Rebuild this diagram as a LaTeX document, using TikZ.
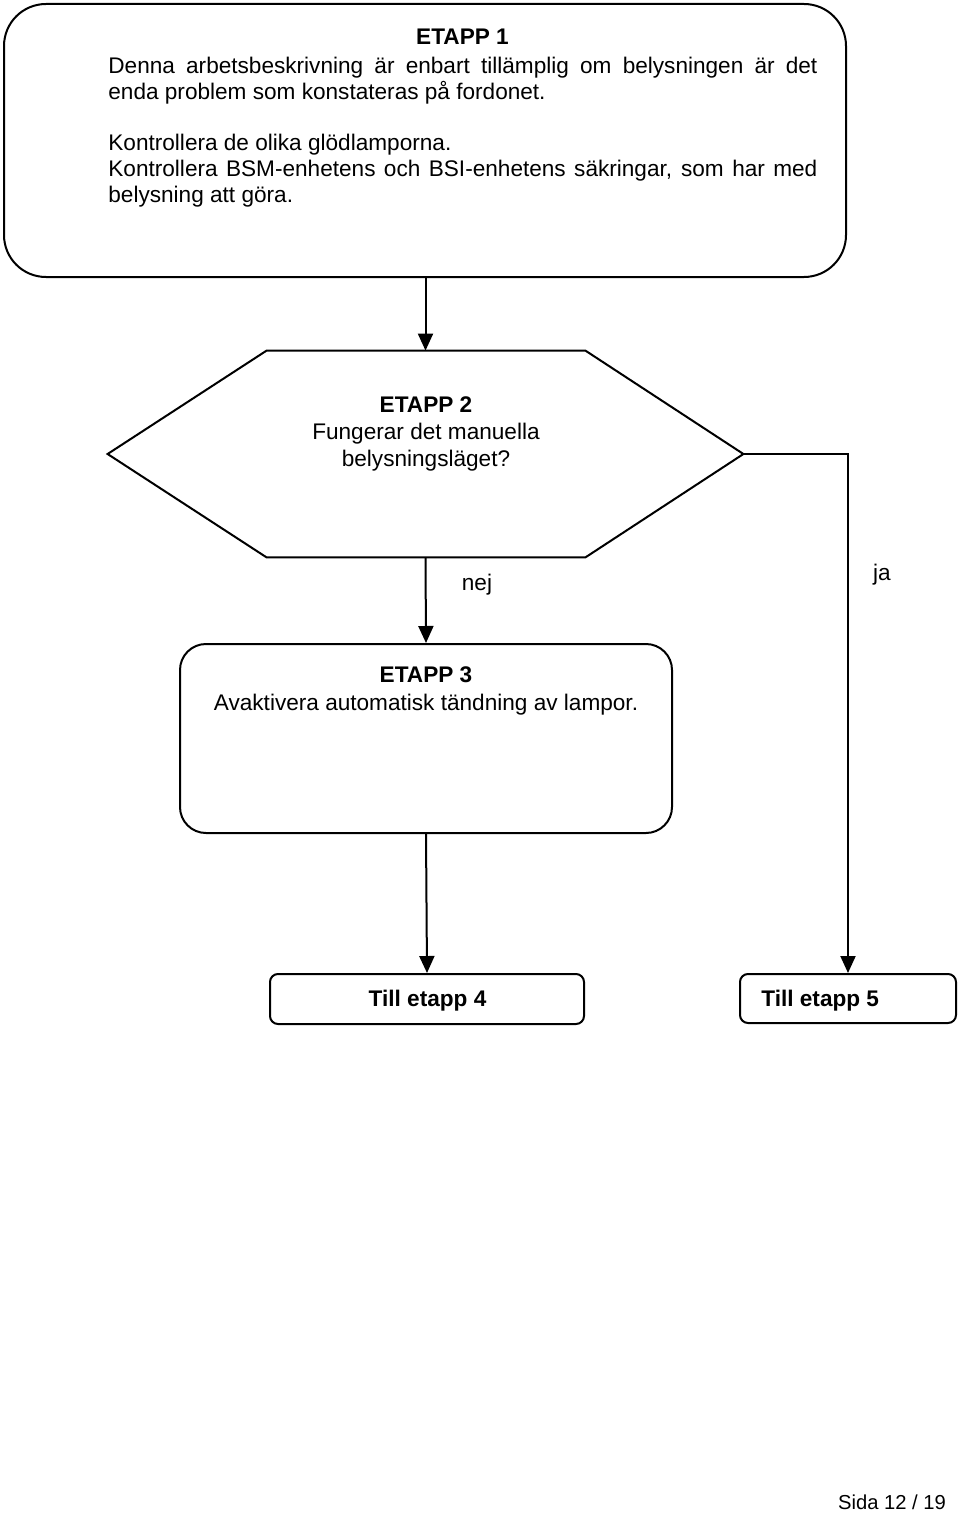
\documentclass[tikz,border=0pt]{standalone}
\usepackage{fontspec}
\setmainfont{Liberation Sans}
\usetikzlibrary{arrows.meta}
\tikzset{
  line/.style={line width=1pt, draw=black},
  arr/.style={line, -{Triangle[length=8.5pt,width=7.5pt]}},
  txt/.style={inner sep=0pt, anchor=base, font=\fontsize{11.3}{13}\selectfont},
  txtl/.style={txt, anchor=base west},
  bold/.style={txt, font=\fontsize{11.3}{13}\selectfont\bfseries},
  boxA/.style={line, rounded corners=21pt, inner sep=0pt, minimum width=421pt, minimum height=136.5pt},
  boxC/.style={line, rounded corners=13pt, inner sep=0pt, minimum width=246pt, minimum height=94.5pt},
  boxT/.style={line, rounded corners=4pt, inner sep=0pt, minimum height=25pt},
  hexbox/.style={inner sep=0pt, minimum width=317.5pt, minimum height=103pt}
}
\begin{document}
\begin{tikzpicture}[x=0.5pt,y=-0.5pt]
\useasboundingbox (0,0) rectangle (960,1514);
% Etapp 1 box
\node[boxA] (b1) at (425,140.5) {};
\node[bold] (t1h) at (462.5,45) {ETAPP 1};
\node[txtl] (t1a) at (108,74) {\makebox[354.5pt][s]{Denna arbetsbeskrivning är enbart tillämplig om belysningen är det}};
\node[txtl] (t1b) at (108,100) {enda problem som konstateras på fordonet.};
\node[txtl] (t1c) at (108,151) {Kontrollera de olika glödlamporna.};
\node[txtl] (t1d) at (108,177) {\makebox[354.5pt][s]{Kontrollera BSM-enhetens och BSI-enhetens säkringar, som har med}};
\node[txtl] (t1e) at (108,203) {belysning att göra.};
% Etapp 2 hexagon
\node[hexbox] (hex) at (425.5,454) {};
\draw[line] (hex.west) -- ([xshift=79.5pt]hex.north west) -- ([xshift=-79pt]hex.north east)
  -- (hex.east) -- ([xshift=-79pt]hex.south east) -- ([xshift=79.5pt]hex.south west) -- cycle;
\node[bold] (t2h) at (426,412) {ETAPP 2};
\node[txt] (t2a) at (426,439) {Fungerar det manuella};
\node[txt] (t2b) at (426,466) {belysningsläget?};
% Etapp 3 box
\node[boxC] (b3) at (426,738.5) {};
\node[bold] (t3h) at (426,682) {ETAPP 3};
\node[txt] (t3a) at (426,710) {Avaktivera automatisk tändning av lampor.};
% Till boxes
\node[boxT, minimum width=157pt] (b4) at (427,999) {};
\node[bold] (t4) at (427.5,1006) {Till etapp 4};
\node[boxT, minimum width=108pt, minimum height=24.5pt] (b5) at (848,998.5) {};
\node[bold, anchor=base west] (t5) at (761,1006) {Till etapp 5};
% connectors
\draw[arr] (b1.south -| hex.north) -- (hex.north);
\draw[arr] (hex.south) -- (b3.north);
\draw[arr] (b3.south) -- (b4.north);
\draw[arr] (hex.east) -| (b5.north);
\node[txt] (nej) at (477,590) {nej};
\node[txt] (ja) at (882,580) {ja};
% footer
\node[txt, font=\fontsize{10.1}{12}\selectfont] (sida) at (892,1509) {Sida 12 / 19};
\end{tikzpicture}
\end{document}
